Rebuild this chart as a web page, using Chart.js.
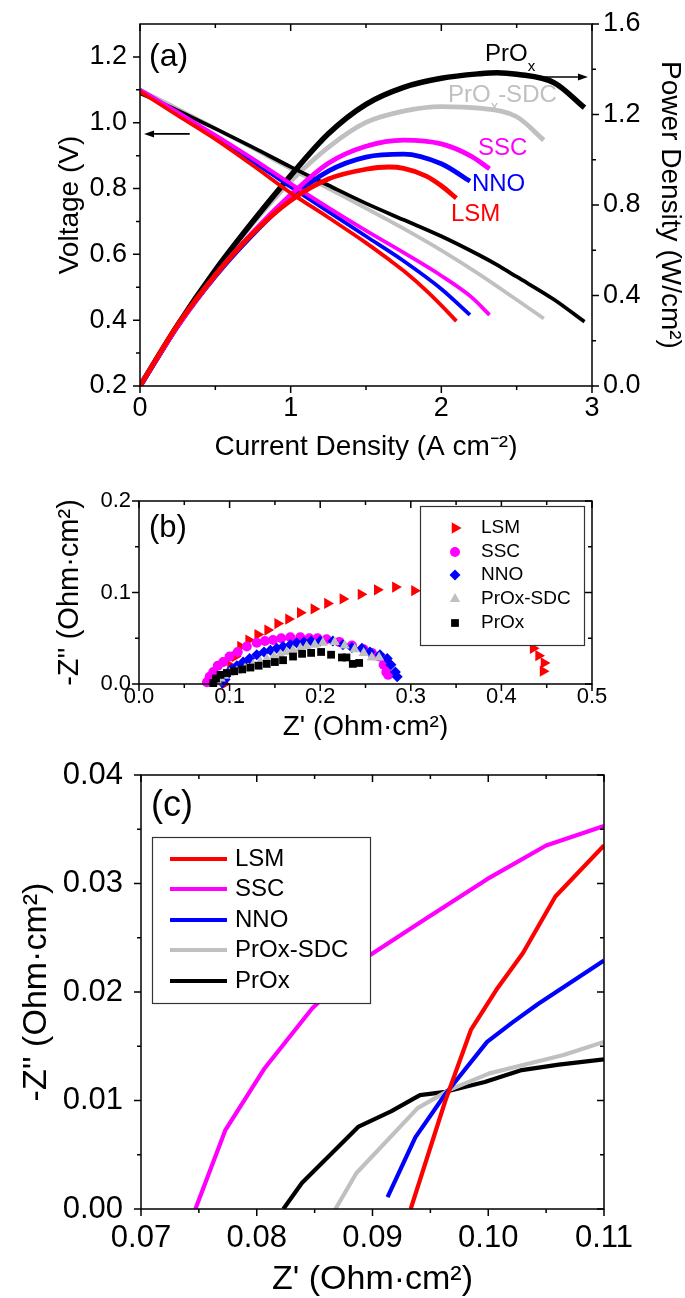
<!DOCTYPE html>
<html><head><meta charset="utf-8">
<script src="https://cdn.jsdelivr.net/npm/chart.js@4.4.0/dist/chart.umd.min.js"></script>
<style>
html,body{margin:0;padding:0;background:#fff;}
body{width:685px;height:1298px;position:relative;overflow:hidden;}
canvas{position:absolute;left:0;}
</style></head><body>
<canvas id="ca" width="685" height="460" style="top:0px"></canvas>
<canvas id="cb" width="685" height="280" style="top:460px"></canvas>
<canvas id="cc" width="685" height="558" style="top:740px"></canvas>
<script>
// ---------------- DATA ----------------
const categories = ['LSM', 'SSC', 'NNO', 'PrOx-SDC', 'PrOx'];

// Panel (a): current density (A cm-2), voltage (V), power density (W/cm2)
const aI_LSM  = [0, 0.25, 0.5, 0.75, 1, 1.25, 1.5, 1.65, 1.75, 1.9, 2, 2.1];
const aV_LSM  = [1.095, 1.022, 0.95, 0.87, 0.787, 0.712, 0.635, 0.585, 0.55, 0.49, 0.445, 0.397];
const aP_LSM  = [0, 0.27, 0.49, 0.675, 0.82, 0.915, 0.958, 0.968, 0.962, 0.928, 0.885, 0.83];
const aI_SSC  = [0, 0.25, 0.5, 0.75, 1, 1.25, 1.5, 1.75, 2, 2.2, 2.32];
const aV_SSC  = [1.10, 1.032, 0.962, 0.89, 0.815, 0.742, 0.672, 0.605, 0.535, 0.47, 0.416];
const aP_SSC  = [0, 0.265, 0.49, 0.68, 0.845, 0.985, 1.06, 1.087, 1.07, 1.015, 0.96];
const aI_NNO  = [0, 0.25, 0.5, 0.75, 1, 1.25, 1.5, 1.75, 2, 2.19];
const aV_NNO  = [1.10, 1.03, 0.957, 0.882, 0.805, 0.73, 0.655, 0.58, 0.495, 0.416];
const aP_NNO  = [0, 0.265, 0.485, 0.67, 0.83, 0.95, 1.012, 1.025, 0.982, 0.905];
const aI_PSDC = [0, 0.25, 0.5, 0.75, 1, 1.25, 1.5, 1.75, 2, 2.25, 2.5, 2.68];
const aV_PSDC = [1.10, 1.043, 0.983, 0.922, 0.86, 0.80, 0.74, 0.678, 0.612, 0.54, 0.462, 0.405];
const aP_PSDC = [0, 0.27, 0.51, 0.72, 0.905, 1.055, 1.165, 1.215, 1.235, 1.228, 1.19, 1.087];
const aI_PrOx = [0, 0.25, 0.5, 0.75, 1, 1.25, 1.5, 1.75, 2, 2.25, 2.37, 2.5, 2.75, 2.95];
const aV_PrOx = [1.09, 1.037, 0.982, 0.925, 0.866, 0.81, 0.755, 0.705, 0.655, 0.598, 0.568, 0.532, 0.462, 0.395];
const aP_PrOx = [0, 0.27, 0.512, 0.728, 0.93, 1.115, 1.245, 1.32, 1.36, 1.38, 1.385, 1.378, 1.34, 1.23];

// Panel (b): Nyquist Z' and -Z'' (Ohm cm2)
const bX_LSM  = [0.094, 0.097, 0.101, 0.106, 0.112, 0.121, 0.131, 0.142, 0.153, 0.165, 0.178, 0.193, 0.208, 0.225, 0.245, 0.263, 0.283, 0.304, 0.435, 0.441, 0.447, 0.446];
const bY_LSM  = [0.0, 0.01, 0.02, 0.03, 0.041, 0.048, 0.054, 0.059, 0.066, 0.071, 0.078, 0.082, 0.088, 0.093, 0.098, 0.103, 0.106, 0.102, 0.039, 0.031, 0.023, 0.014];
const bX_SSC  = [0.075, 0.078, 0.082, 0.087, 0.093, 0.1, 0.109, 0.119, 0.13, 0.139, 0.148, 0.157, 0.167, 0.178, 0.188, 0.197, 0.207, 0.221, 0.235, 0.248, 0.257, 0.265, 0.270, 0.273, 0.275];
const bY_SSC  = [0.002, 0.008, 0.013, 0.02, 0.024, 0.03, 0.035, 0.041, 0.045, 0.047, 0.048, 0.05, 0.051, 0.051, 0.05, 0.05, 0.049, 0.046, 0.042, 0.038, 0.034, 0.030, 0.021, 0.013, 0.010];
const bX_NNO  = [0.092, 0.095, 0.098, 0.102, 0.108, 0.115, 0.122, 0.13, 0.138, 0.145, 0.152, 0.159, 0.167, 0.174, 0.182, 0.19, 0.2, 0.214, 0.225, 0.235, 0.246, 0.255, 0.266, 0.274, 0.278, 0.283, 0.285];
const bY_NNO  = [0.001, 0.005, 0.011, 0.016, 0.02, 0.024, 0.028, 0.032, 0.035, 0.037, 0.039, 0.041, 0.043, 0.045, 0.046, 0.047, 0.047, 0.047, 0.043, 0.040, 0.039, 0.035, 0.032, 0.028, 0.021, 0.013, 0.008];
const bX_PSDC = [0.087, 0.09, 0.094, 0.1, 0.108, 0.117, 0.126, 0.134, 0.141, 0.149, 0.156, 0.163, 0.17, 0.178, 0.185, 0.194, 0.203, 0.216, 0.227, 0.238, 0.248, 0.257, 0.265];
const bY_PSDC = [0.002, 0.006, 0.009, 0.012, 0.014, 0.017, 0.021, 0.024, 0.027, 0.03, 0.032, 0.035, 0.037, 0.039, 0.041, 0.043, 0.045, 0.046, 0.042, 0.038, 0.034, 0.029, 0.029];
const bX_PrOx = [0.082, 0.085, 0.09, 0.097, 0.105, 0.114, 0.123, 0.132, 0.141, 0.150, 0.159, 0.170, 0.180, 0.190, 0.201, 0.212, 0.224, 0.229, 0.236, 0.243];
const bY_PrOx = [0.001, 0.006, 0.010, 0.012, 0.014, 0.016, 0.018, 0.020, 0.022, 0.024, 0.026, 0.030, 0.033, 0.034, 0.035, 0.032, 0.029, 0.029, 0.022, 0.023];

// Panel (c): zoom of the high-frequency intercepts
const cX_LSM  = [0.0933, 0.0963, 0.0985, 0.1007, 0.103, 0.1058, 0.11];
const cY_LSM  = [0, 0.0100, 0.0165, 0.0202, 0.0236, 0.0288, 0.0335];
const cX_SSC  = [0.0747, 0.0773, 0.0807, 0.0848, 0.0895, 0.0941, 0.0999, 0.105, 0.11];
const cY_SSC  = [0, 0.0073, 0.013, 0.0185, 0.0232, 0.0264, 0.0304, 0.0335, 0.0353];
const cX_NNO  = [0.0913, 0.0937, 0.0963, 0.0999, 0.1021, 0.1043, 0.11];
const cY_NNO  = [0.0011, 0.0066, 0.0106, 0.0154, 0.0172, 0.0189, 0.0229];
const cX_PSDC = [0.0868, 0.0886, 0.0939, 0.0967, 0.1001, 0.1031, 0.1065, 0.11];
const cY_PSDC = [0, 0.0033, 0.0093, 0.011, 0.0125, 0.0133, 0.0142, 0.0154];
const cX_PrOx = [0.0823, 0.0839, 0.0888, 0.0916, 0.0941, 0.0963, 0.0997, 0.1029, 0.1061, 0.11];
const cY_PrOx = [0, 0.0024, 0.0076, 0.009, 0.0105, 0.0108, 0.0117, 0.0128, 0.0133, 0.0138];

// Tick label values
const aXTicks  = [0, 1, 2, 3];
const aYTicks  = [0.2, 0.4, 0.6, 0.8, 1.0, 1.2];
const aY1Ticks = [0.0, 0.4, 0.8, 1.2, 1.6];
const bXTicks  = [0.0, 0.1, 0.2, 0.3, 0.4, 0.5];
const bYTicks  = [0.0, 0.1, 0.2];
const cXTicks  = [0.07, 0.08, 0.09, 0.10, 0.11];
const cYTicks  = [0.00, 0.01, 0.02, 0.03, 0.04];

// ---------------- STYLE ----------------
const seriesColors = ['#ff0000', '#ff00ff', '#0000ff', '#c0c0c0', '#000000'];
const FONT = "'Liberation Sans', Arial, Helvetica, sans-serif";
Chart.defaults.font.family = FONT;
Chart.defaults.color = '#000';

const pairs = (xs, ys) => xs.map((x, i) => ({x: x, y: ys[i]}));
const mids = arr => arr.slice(1).map((v, i) => (v + arr[i]) / 2);

function axis(o) {
  return {
    type: 'linear', position: o.position, min: o.min, max: o.max,
    afterBuildTicks: s => { s.ticks = o.ticks.map(v => ({value: v})); },
    afterFit: s => {
      if (o.horiz) s.height = o.size; else s.width = o.size;
      s.paddingTop = 0; s.paddingBottom = 0; s.paddingLeft = 0; s.paddingRight = 0;
    },
    grid: {display: false, drawTicks: false, drawOnChartArea: false},
    border: {display: false},
    ticks: {callback: v => Number(v).toFixed(o.dec), font: {size: o.font}, padding: o.pad,
            autoSkip: false, maxRotation: 0, minRotation: 0, color: '#000'},
    title: {display: true, text: o.title, font: {size: o.tsize}, color: '#000', padding: o.tpad}
  };
}

// frame + inward/outward tick marks
const frameTicks = {
  id: 'frameTicks',
  afterDatasetsDraw(chart, args, o) {
    if (!o || !o.sides) return;
    const ctx = chart.ctx, a = chart.chartArea;
    ctx.save();
    ctx.strokeStyle = '#000'; ctx.lineWidth = 1.5;
    ctx.strokeRect(a.left, a.top, a.right - a.left, a.bottom - a.top);
    ctx.beginPath();
    for (const s of o.sides) {
      const sc = chart.scales[s.scale];
      const marks = s.major.map(v => [v, 7]).concat(mids(s.major).map(v => [v, 4]));
      const sg = s.out ? 1 : -1;
      for (const [v, len] of marks) {
        const p = sc.getPixelForValue(v);
        if (s.edge === 'bottom') { ctx.moveTo(p, a.bottom); ctx.lineTo(p, a.bottom + sg * len); }
        if (s.edge === 'top')    { ctx.moveTo(p, a.top);    ctx.lineTo(p, a.top - sg * len); }
        if (s.edge === 'left')   { ctx.moveTo(a.left, p);   ctx.lineTo(a.left - sg * len, p); }
        if (s.edge === 'right')  { ctx.moveTo(a.right, p);  ctx.lineTo(a.right + sg * len, p); }
      }
    }
    ctx.stroke();
    ctx.restore();
  }
};

// text annotations and arrows
const notes = {
  id: 'notes',
  beforeDatasetsDraw(chart, args, o) {
    if (!o || !o.items) return;
    const ctx = chart.ctx;
    ctx.save();
    for (const it of o.items) {
      const xs = chart.scales['x'], ys = chart.scales[it.yAxis || 'y'];
      if (it.type === 'arrow') {
        const x1 = xs.getPixelForValue(it.x1), x2 = xs.getPixelForValue(it.x2), y = ys.getPixelForValue(it.y);
        const d = Math.sign(x2 - x1), hl = 10, hw = 3.5;
        ctx.strokeStyle = '#000'; ctx.fillStyle = '#000'; ctx.lineWidth = 1.6;
        ctx.beginPath(); ctx.moveTo(x1, y); ctx.lineTo(x2 - d * hl, y); ctx.stroke();
        ctx.beginPath(); ctx.moveTo(x2, y); ctx.lineTo(x2 - d * hl, y - hw); ctx.lineTo(x2 - d * hl, y + hw); ctx.closePath(); ctx.fill();
      } else {
        let x = xs.getPixelForValue(it.x);
        const y = ys.getPixelForValue(it.y);
        ctx.fillStyle = it.color; ctx.textBaseline = 'middle'; ctx.textAlign = 'left';
        for (const [t, sub] of it.parts) {
          ctx.font = (sub ? it.subSize : it.size) + 'px ' + FONT;
          ctx.fillText(t, x, y + (sub ? it.subDy : 0));
          x += ctx.measureText(t).width;
        }
      }
    }
    ctx.restore();
  }
};

// boxed legend drawn over the data
const boxLegend = {
  id: 'boxLegend',
  afterDatasetsDraw(chart, args, o) {
    if (!o || !o.box) return;
    const ctx = chart.ctx, b = o.box;
    ctx.save();
    ctx.fillStyle = '#fff'; ctx.fillRect(b[0], b[1], b[2], b[3]);
    ctx.strokeStyle = '#333'; ctx.lineWidth = 1.2; ctx.strokeRect(b[0] + 0.5, b[1] + 0.5, b[2], b[3]);
    chart.data.datasets.forEach((ds, i) => {
      const y = o.rows[i];
      if (o.kind === 'line') {
        ctx.strokeStyle = ds.borderColor; ctx.lineWidth = o.lw; ctx.lineCap = 'butt';
        ctx.beginPath(); ctx.moveTo(o.x1, y); ctx.lineTo(o.x2, y); ctx.stroke();
      } else {
        ctx.fillStyle = ds.pointBackgroundColor;
        Chart.helpers.drawPoint(ctx, {pointStyle: ds.pointStyle, rotation: ds.pointRotation || 0,
          radius: ds.pointRadius, borderWidth: 0}, o.mx, y);
      }
      ctx.fillStyle = '#000'; ctx.font = o.font + 'px ' + FONT;
      ctx.textBaseline = 'middle'; ctx.textAlign = 'left';
      ctx.fillText(ds.label, o.tx, y);
    });
    ctx.restore();
  }
};

const common = {responsive: false, animation: false, devicePixelRatio: 1, events: []};

// ---------------- PANEL (a) ----------------
const aSets = [
  [aI_LSM, aV_LSM, aP_LSM], [aI_SSC, aV_SSC, aP_SSC], [aI_NNO, aV_NNO, aP_NNO],
  [aI_PSDC, aV_PSDC, aP_PSDC], [aI_PrOx, aV_PrOx, aP_PrOx]
];
const aOrder = [1, 2, 3, 5, 4];
const aDatasets = [];
aSets.forEach((s, i) => {
  const base = {borderColor: seriesColors[i], backgroundColor: seriesColors[i], showLine: true,
    pointRadius: 0, cubicInterpolationMode: 'monotone', order: aOrder[i], borderJoinStyle: 'round'};
  aDatasets.push(Object.assign({label: categories[i] + ' V', data: pairs(s[0], s[1]), yAxisID: 'y', borderWidth: 3.8}, base));
  aDatasets.push(Object.assign({label: categories[i] + ' P', data: pairs(s[0], s[2]), yAxisID: 'y1', borderWidth: i === 4 ? 5.5 : 4.8}, base));
});

new Chart(document.getElementById('ca'), {
  type: 'scatter',
  data: {datasets: aDatasets},
  options: Object.assign({}, common, {
    layout: {padding: {top: 24, left: 0, right: 0, bottom: 0}},
    plugins: {
      legend: {display: false}, tooltip: {enabled: false},
      frameTicks: {sides: [
        {edge: 'bottom', scale: 'x', major: aXTicks, out: true},
        {edge: 'top', scale: 'x', major: aXTicks, out: false},
        {edge: 'left', scale: 'y', major: aYTicks, out: true},
        {edge: 'right', scale: 'y1', major: aY1Ticks, out: true}
      ]},
      notes: {items: [
        {parts: [['(a)', 0]], x: 0.06, y: 1.2, size: 32, color: '#000'},
        {parts: [['PrO', 0], ['x', 1]], x: 2.29, y: 1.209, size: 24, subSize: 15, subDy: 13, color: '#000'},
        {parts: [['PrO', 0], ['x', 1], ['-SDC', 0]], x: 2.044, y: 1.084, size: 24, subSize: 15, subDy: 12, color: '#c0c0c0'},
        {parts: [['SSC', 0]], x: 2.243, y: 0.923, size: 24, color: '#ff00ff'},
        {parts: [['NNO', 0]], x: 2.203, y: 0.814, size: 24, color: '#0000ff'},
        {parts: [['LSM', 0]], x: 2.064, y: 0.723, size: 24, color: '#ff0000'},
        {type: 'arrow', x1: 2.63, x2: 2.973, y: 1.139},
        {type: 'arrow', x1: 0.33, x2: 0.027, y: 0.966}
      ]}
    },
    scales: {
      x: axis({position: 'bottom', min: 0, max: 3, ticks: aXTicks, dec: 0, font: 27, pad: 6, horiz: true, size: 74,
               title: 'Current Density (A cm\u207B\u00B2)', tsize: 28, tpad: {top: 0, bottom: -4}}),
      y: axis({position: 'left', min: 0.2, max: 1.3, ticks: aYTicks, dec: 1, font: 27, pad: 13, horiz: false, size: 140,
               title: 'Voltage (V)', tsize: 28, tpad: {top: 53, bottom: 0}}),
      y1: axis({position: 'right', min: 0, max: 1.6, ticks: aY1Ticks, dec: 1, font: 27, pad: 11, horiz: false, size: 93,
               title: 'Power Density (W/cm\u00B2)', tsize: 28, tpad: {top: -2, bottom: 0}})
    }
  }),
  plugins: [frameTicks, notes]
});

// ---------------- PANEL (b) ----------------
const bMarkers = [
  {pointStyle: 'triangle', pointRotation: 90, pointRadius: 6.5},
  {pointStyle: 'circle', pointRadius: 5},
  {pointStyle: 'rectRot', pointRadius: 5.5},
  {pointStyle: 'triangle', pointRadius: 6},
  {pointStyle: 'rect', pointRadius: 5.5}
];
const bSets = [[bX_LSM, bY_LSM], [bX_SSC, bY_SSC], [bX_NNO, bY_NNO], [bX_PSDC, bY_PSDC], [bX_PrOx, bY_PrOx]];
const bOrder = [5, 4, 3, 2, 1];
new Chart(document.getElementById('cb'), {
  type: 'scatter',
  data: {datasets: bSets.map((s, i) => Object.assign({
    label: categories[i], data: pairs(s[0], s[1]), showLine: false, clip: false,
    pointBackgroundColor: seriesColors[i], pointBorderWidth: 0, borderColor: seriesColors[i], order: bOrder[i]
  }, bMarkers[i]))},
  options: Object.assign({}, common, {
    layout: {padding: {top: 41, left: 0, right: 93, bottom: 0}},
    plugins: {
      legend: {display: false}, tooltip: {enabled: false},
      frameTicks: {sides: [
        {edge: 'bottom', scale: 'x', major: bXTicks, out: true},
        {edge: 'top', scale: 'x', major: bXTicks, out: false},
        {edge: 'left', scale: 'y', major: bYTicks, out: true},
        {edge: 'right', scale: 'y', major: bYTicks, out: false}
      ]},
      notes: {items: [{parts: [['(b)', 0]], x: 0.011, y: 0.170, size: 31, color: '#000'}]},
      boxLegend: {box: [420, 46, 164, 139], kind: 'point', mx: 455, tx: 481, rows: [68, 92, 115, 139, 163], font: 19}
    },
    scales: {
      x: axis({position: 'bottom', min: 0, max: 0.5, ticks: bXTicks, dec: 1, font: 22, pad: 0, horiz: true, size: 56,
               title: "Z' (Ohm\u00B7cm\u00B2)", tsize: 28, tpad: {top: 0, bottom: -4}}),
      y: axis({position: 'left', min: 0, max: 0.2, ticks: bYTicks, dec: 1, font: 22, pad: 8, horiz: false, size: 139,
               title: "-Z'' (Ohm\u00B7cm\u00B2)", tsize: 29, tpad: {top: 52.6, bottom: 0}})
    }
  }),
  plugins: [frameTicks, notes, boxLegend]
});

// ---------------- PANEL (c) ----------------
const cSets = [[cX_LSM, cY_LSM], [cX_SSC, cY_SSC], [cX_NNO, cY_NNO], [cX_PSDC, cY_PSDC], [cX_PrOx, cY_PrOx]];
new Chart(document.getElementById('cc'), {
  type: 'scatter',
  data: {datasets: cSets.map((s, i) => ({
    label: categories[i], data: pairs(s[0], s[1]), showLine: true, pointRadius: 0,
    borderColor: seriesColors[i], backgroundColor: seriesColors[i], borderWidth: 4.2,
    borderJoinStyle: 'round', order: i + 1
  }))},
  options: Object.assign({}, common, {
    layout: {padding: {top: 35, left: 0, right: 81, bottom: 0}},
    plugins: {
      legend: {display: false}, tooltip: {enabled: false},
      frameTicks: {sides: [
        {edge: 'bottom', scale: 'x', major: cXTicks, out: true},
        {edge: 'top', scale: 'x', major: cXTicks, out: false},
        {edge: 'left', scale: 'y', major: cYTicks, out: true},
        {edge: 'right', scale: 'y', major: cYTicks, out: false}
      ]},
      notes: {items: [{parts: [['(c)', 0]], x: 0.07086, y: 0.03714, size: 36, color: '#000'}]},
      boxLegend: {box: [152, 97, 218, 166], kind: 'line', x1: 170, x2: 227, lw: 4.2, tx: 235, rows: [119, 149, 180, 210, 241], font: 24}
    },
    scales: {
      x: axis({position: 'bottom', min: 0.07, max: 0.11, ticks: cXTicks, dec: 2, font: 31, pad: 11, horiz: true, size: 89,
               title: "Z' (Ohm\u00B7cm\u00B2)", tsize: 34, tpad: {top: 0, bottom: -2.4}}),
      y: axis({position: 'left', min: 0, max: 0.04, ticks: cYTicks, dec: 2, font: 31, pad: 18, horiz: false, size: 141,
               title: "-Z'' (Ohm\u00B7cm\u00B2)", tsize: 34, tpad: {top: 16.6, bottom: 0}})
    }
  }),
  plugins: [frameTicks, notes, boxLegend]
});
</script>
</body></html>
